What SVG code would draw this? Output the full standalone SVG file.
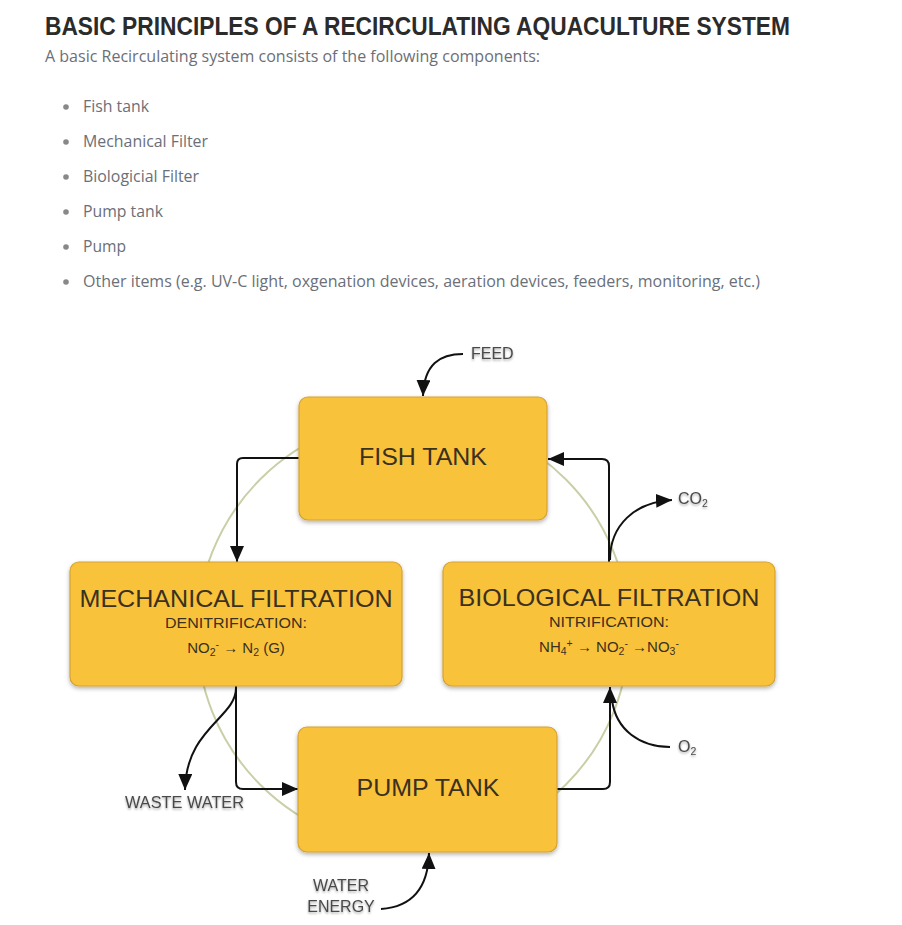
<svg xmlns="http://www.w3.org/2000/svg" width="902" height="925" viewBox="0 0 902 925">
<style>
.title{font-family:"Liberation Sans",Arial,sans-serif;font-weight:bold;font-size:25px;fill:#2b2b2b}
.body{font-family:"Open Sans","Liberation Sans",sans-serif;font-size:16px;fill:#6b6f78}
.box{fill:#F9C23A;stroke:#D6A232;stroke-width:1.2}
.big{font-family:"Liberation Sans",Arial,sans-serif;font-size:24px;fill:#3a3120;text-anchor:middle}
.small{font-family:"Liberation Sans",Arial,sans-serif;font-size:14px;fill:#3a3120;text-anchor:middle}
.chem{font-family:"Liberation Sans",Arial,sans-serif;font-size:15px;fill:#3a3120;text-anchor:middle}
.lbl{font-family:"Liberation Sans",Arial,sans-serif;font-size:16px;fill:#4a4a4a}
.ln{fill:none;stroke:#111;stroke-width:2}
.sub{font-size:10.5px}
</style>
<defs>
<marker id="ah" markerUnits="userSpaceOnUse" markerWidth="16" markerHeight="14" viewBox="0 0 16 14" refX="16" refY="7" orient="auto">
<path d="M0,0 L16,7 L0,14 Z" fill="#111"/>
</marker>
<filter id="sh" x="-10%" y="-10%" width="120%" height="130%">
<feDropShadow dx="0" dy="2" stdDeviation="2" flood-color="#000" flood-opacity="0.3"/>
</filter>
<filter id="ts" x="-10%" y="-30%" width="120%" height="160%">
<feDropShadow dx="0" dy="1.5" stdDeviation="1.2" flood-color="#000" flood-opacity="0.35"/>
</filter>
</defs>
<rect width="902" height="925" fill="#fff"/>
<g id="header">
<text class="title" x="45" y="35" textLength="745" lengthAdjust="spacingAndGlyphs">BASIC PRINCIPLES OF A RECIRCULATING AQUACULTURE SYSTEM</text>
<text class="body" x="45" y="62" textLength="495" lengthAdjust="spacingAndGlyphs">A basic Recirculating system consists of the following components:</text>
</g>
<g id="list">
<circle cx="66" cy="107" r="2.8" fill="#888"/>
<circle cx="66" cy="142" r="2.8" fill="#888"/>
<circle cx="66" cy="177" r="2.8" fill="#888"/>
<circle cx="66" cy="212" r="2.8" fill="#888"/>
<circle cx="66" cy="247" r="2.8" fill="#888"/>
<circle cx="66" cy="282" r="2.8" fill="#888"/>
<text class="body" x="83" y="112" textLength="66" lengthAdjust="spacingAndGlyphs">Fish tank</text>
<text class="body" x="83" y="147" textLength="125" lengthAdjust="spacingAndGlyphs">Mechanical Filter</text>
<text class="body" x="83" y="182" textLength="116" lengthAdjust="spacingAndGlyphs">Biologicial Filter</text>
<text class="body" x="83" y="217" textLength="80" lengthAdjust="spacingAndGlyphs">Pump tank</text>
<text class="body" x="83" y="252" textLength="43" lengthAdjust="spacingAndGlyphs">Pump</text>
<text class="body" x="83" y="287" textLength="677" lengthAdjust="spacingAndGlyphs">Other items (e.g. UV-C light, oxgenation devices, aeration devices, feeders, monitoring, etc.)</text>
</g>
<circle id="cycle" cx="413" cy="632" r="216" fill="none" stroke="#c9cfa6" stroke-width="2"/>
<g id="connectors">
<path class="ln" d="M299,458 H243 Q237,458 237,464 V562" marker-end="url(#ah)"/>
<path class="ln" d="M236,686 V782 Q236,789 243,789 H298" marker-end="url(#ah)"/>
<path class="ln" d="M236,688 C236,718 186,728 185,790" marker-end="url(#ah)"/>
<path class="ln" d="M557,789 H603 Q610,789 610,782 V687" marker-end="url(#ah)"/>
<path class="ln" d="M670,747 C640,747 616,730 612,700"/>
<path class="ln" d="M609,562 V466 Q609,459 602,459 H548" marker-end="url(#ah)"/>
<path class="ln" d="M610,560 C610,525 635,502 672,500" marker-end="url(#ah)"/>
<path class="ln" d="M463,354 C440,354 424,364 423,396" marker-end="url(#ah)"/>
<path class="ln" d="M381,909 C410,907 428,890 429,853" marker-end="url(#ah)"/>
</g>
<g id="fish-tank">
<rect class="box" x="299" y="397" width="248" height="123" rx="9" filter="url(#sh)"/>
<text class="big" x="423" y="465" textLength="128" lengthAdjust="spacingAndGlyphs">FISH TANK</text>
</g>
<g id="mechanical-filtration">
<rect class="box" x="70" y="562" width="332" height="124" rx="9" filter="url(#sh)"/>
<text class="big" x="236" y="607" textLength="313" lengthAdjust="spacingAndGlyphs">MECHANICAL FILTRATION</text>
<text class="small" x="236" y="628" textLength="142" lengthAdjust="spacingAndGlyphs">DENITRIFICATION:</text>
<text class="chem" x="236" y="653">NO<tspan class="sub" dy="3">2</tspan><tspan class="sub" dy="-8">-</tspan><tspan dy="5">  →  N</tspan><tspan class="sub" dy="3">2</tspan><tspan dy="-3"> (G)</tspan></text>
</g>
<g id="biological-filtration">
<rect class="box" x="443" y="562" width="332" height="124" rx="9" filter="url(#sh)"/>
<text class="big" x="609" y="606" textLength="301" lengthAdjust="spacingAndGlyphs">BIOLOGICAL FILTRATION</text>
<text class="small" x="609" y="627" textLength="120" lengthAdjust="spacingAndGlyphs">NITRIFICATION:</text>
<text class="chem" x="609" y="652">NH<tspan class="sub" dy="3">4</tspan><tspan class="sub" dy="-8">+</tspan><tspan dy="5">  →  NO</tspan><tspan class="sub" dy="3">2</tspan><tspan class="sub" dy="-8">-</tspan><tspan dy="5">  →NO</tspan><tspan class="sub" dy="3">3</tspan><tspan class="sub" dy="-8">-</tspan></text>
</g>
<g id="pump-tank">
<rect class="box" x="298" y="727" width="259" height="125" rx="9" filter="url(#sh)"/>
<text class="big" x="428" y="796" textLength="143" lengthAdjust="spacingAndGlyphs">PUMP TANK</text>
</g>
<g id="labels" filter="url(#ts)">
<text class="lbl" x="471" y="359">FEED</text>
<text class="lbl" x="678" y="504">CO<tspan class="sub" dy="3">2</tspan></text>
<text class="lbl" x="678" y="752">O<tspan class="sub" dy="3">2</tspan></text>
<text class="lbl" x="125" y="808" textLength="119" lengthAdjust="spacingAndGlyphs">WASTE WATER</text>
<text class="lbl" x="341" y="891" text-anchor="middle">WATER</text>
<text class="lbl" x="341" y="912" text-anchor="middle">ENERGY</text>
</g>
</svg>
